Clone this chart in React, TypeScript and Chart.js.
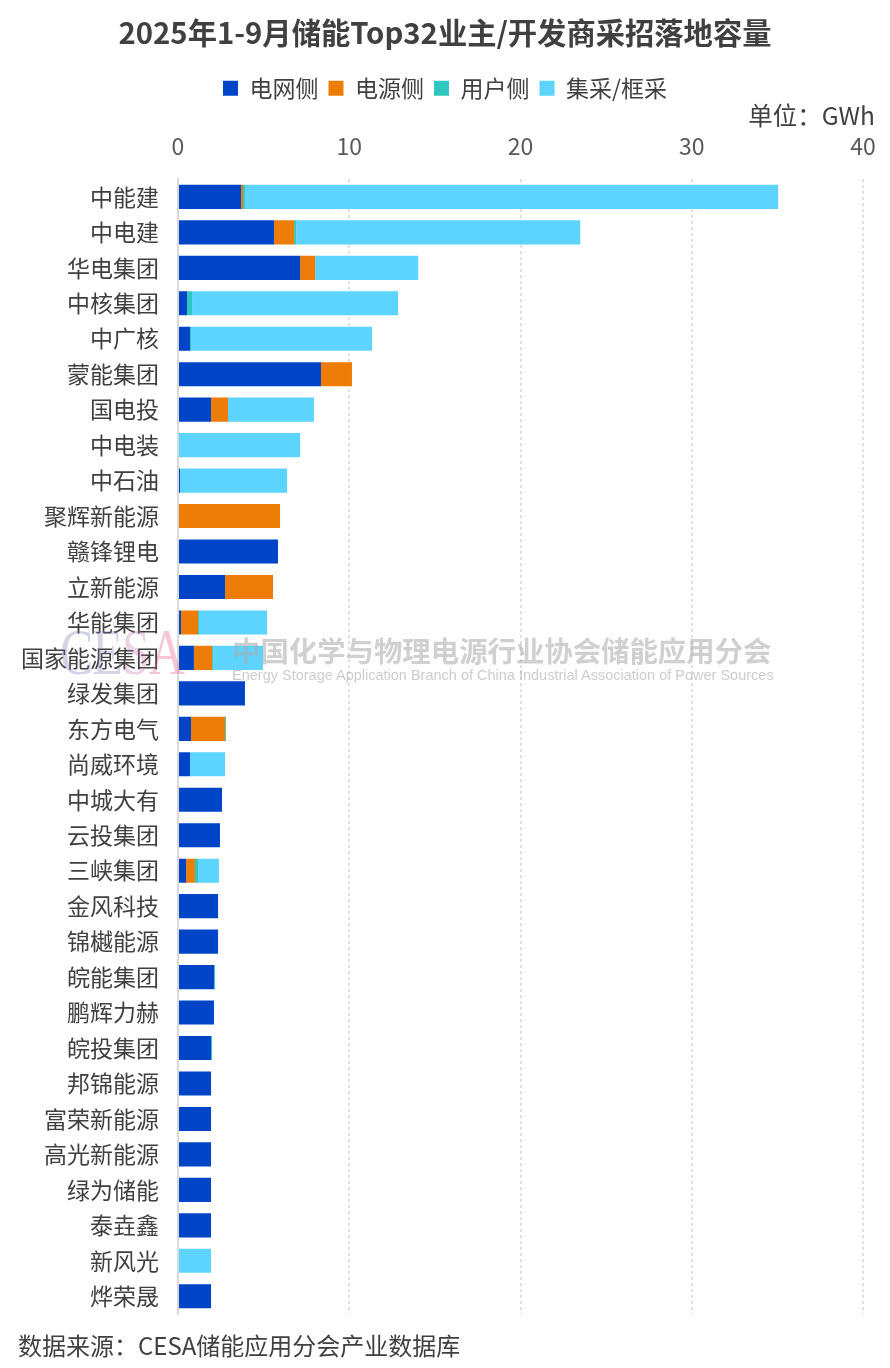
import React, { useEffect, useRef } from "react";
import { Chart, registerables } from "chart.js";
Chart.register(...registerables);

const categories = [
  "中能建", "中电建", "华电集团", "中核集团", "中广核", "蒙能集团", "国电投", "中电装",
  "中石油", "聚辉新能源", "赣锋锂电", "立新能源", "华能集团", "国家能源集团", "绿发集团", "东方电气",
  "尚威环境", "中城大有", "云投集团", "三峡集团", "金风科技", "锦樾能源", "皖能集团", "鹏辉力赫",
  "皖投集团", "邦锦能源", "富荣新能源", "高光新能源", "绿为储能", "泰垚鑫", "新风光", "烨荣晟",
];

const seriesNames = ["电网侧", "电源侧", "用户侧", "集采/框采"];

const gridSide = [
  3.68, 5.61, 7.13, 0.53, 0.70, 8.35, 1.93, 0,
  0.12, 0, 5.84, 2.75, 0.18, 0.93, 3.91, 0.76,
  0.70, 2.57, 2.45, 0.47, 2.34, 2.34, 2.10, 2.10,
  1.93, 1.93, 1.93, 1.93, 1.93, 1.93, 0, 1.93,
];
const sourceSide = [
  0.12, 1.17, 0.88, 0, 0, 1.81, 0.99, 0,
  0, 5.96, 0, 2.80, 0.99, 1.06, 0, 1.99,
  0, 0, 0, 0.52, 0, 0, 0, 0,
  0, 0, 0, 0, 0, 0, 0, 0,
];
const userSide = [
  0.12, 0.12, 0, 0.29, 0.06, 0, 0, 0,
  0, 0, 0, 0, 0.06, 0.06, 0, 0.06,
  0, 0, 0, 0.18, 0, 0, 0.06, 0,
  0.06, 0, 0, 0, 0, 0, 0, 0,
];
const centralized = [
  31.13, 16.59, 6.02, 12.03, 10.57, 0, 5.02, 7.13,
  6.25, 0, 0, 0, 3.97, 2.91, 0, 0,
  2.05, 0, 0, 1.22, 0, 0, 0, 0,
  0, 0, 0, 0, 0, 0, 1.93, 0,
];

const xTicks = [0, 10, 20, 30, 40];

const colors = ["#0044C8", "#ED7D07", "#2FC8C1", "#5CD4FE"];
const FONT = '"Noto Sans CJK SC", "Noto Sans", sans-serif';
const TEXT = "#404040";

export default function App() {
  const ref = useRef<HTMLCanvasElement>(null);

  useEffect(() => {
    document.body.style.margin = "0";
    Chart.defaults.font.family = FONT;
    const values = [gridSide, sourceSide, userSide, centralized];
    const chart = new Chart(ref.current as HTMLCanvasElement, {
      type: "bar",
      data: {
        labels: categories,
        datasets: seriesNames.map((name, i) => ({
          label: name,
          data: values[i],
          backgroundColor: colors[i],
          borderWidth: 0,
          barPercentage: 0.68,
          categoryPercentage: 1,
        })),
      },
      options: {
        indexAxis: "y",
        responsive: false,
        animation: false,
        layout: { padding: { left: 0, right: 0, top: 0, bottom: 54 } },
        plugins: {
          title: {
            display: true,
            text: "2025年1-9月储能Top32业主/开发商采招落地容量",
            color: TEXT,
            font: { size: 29.3, weight: "bold", family: FONT },
            padding: { top: 15.4, bottom: 16.1 },
          },
          legend: {
            display: true,
            position: "top",
            labels: {
              color: TEXT,
              font: { size: 23, family: FONT },
              boxWidth: 15,
              boxHeight: 15,
              padding: 10,
            },
          },
          tooltip: { enabled: false },
        },
        scales: {
          x: {
            type: "linear",
            position: "top",
            stacked: true,
            min: 0,
            max: 40,
            afterBuildTicks: (s: any) => {
              s.ticks = xTicks.map((v) => ({ value: v }));
            },
            afterFit: (s: any) => {
              s.height = 69.5;
              s.paddingRight = 27;
              s.paddingLeft = 0;
            },
            ticks: {
              color: "#595959",
              font: { size: 23, family: FONT },
              padding: 19,
            },
            grid: { color: "#E0E0E0", lineWidth: 2, drawTicks: false },
            border: { display: false, dash: [3, 3] },
          },
          y: {
            stacked: true,
            afterFit: (s: any) => {
              s.width = 178;
            },
            ticks: {
              color: TEXT,
              font: { size: 23, family: FONT },
              padding: 19,
              autoSkip: false,
            },
            grid: { display: false, drawTicks: false },
            border: { display: true, color: "#D9D9D9", width: 2 },
          },
        },
      },
    });
    return () => chart.destroy();
  }, []);

  return (
    <div style={{ position: "relative", width: 890, height: 1368, background: "#fff", fontFamily: FONT }}>
      <canvas ref={ref} width={890} height={1368} style={{ display: "block", width: 890, height: 1368 }} />
      <div
        style={{
          position: "absolute",
          right: 15,
          top: 101,
          lineHeight: "28px",
          fontSize: 24.5,
          color: TEXT,
          whiteSpace: "nowrap",
        }}
      >
        单位：GWh
      </div>
      <div
        style={{
          position: "absolute",
          left: 18,
          top: 1331,
          lineHeight: "28px",
          fontSize: 24,
          color: TEXT,
          whiteSpace: "nowrap",
        }}
      >
        数据来源：CESA储能应用分会产业数据库
      </div>
      <div style={{ position: "absolute", left: 0, top: 0, width: 890, height: 1368, pointerEvents: "none" }}>
        <div
          style={{
            position: "absolute",
            left: 60,
            top: 622,
            fontFamily: '"Liberation Serif", serif',
            fontSize: 50,
            lineHeight: "60px",
            transform: "scaleY(1.3)",
            transformOrigin: "left center",
            whiteSpace: "nowrap",
            letterSpacing: -1,
          }}
        >
          <span style={{ color: "rgba(110,110,180,0.3)" }}>C</span>
          <span style={{ color: "rgba(120,110,180,0.3)" }}>E</span>
          <span style={{ color: "rgba(190,110,170,0.3)" }}>S</span>
          <span style={{ color: "rgba(235,90,140,0.35)" }}>A</span>
        </div>
        <div
          style={{
            position: "absolute",
            left: 232,
            top: 632,
            fontSize: 28.4,
            lineHeight: "36px",
            fontWeight: 700,
            color: "rgba(170,170,170,0.55)",
            whiteSpace: "nowrap",
          }}
        >
          中国化学与物理电源行业协会储能应用分会
        </div>
        <div
          style={{
            position: "absolute",
            left: 232,
            top: 666,
            fontSize: 14.5,
            lineHeight: "18px",
            fontFamily: '"Liberation Sans", Arial, sans-serif',
            color: "rgba(170,170,170,0.6)",
            whiteSpace: "nowrap",
          }}
        >
          Energy Storage Application Branch of China Industrial Association of Power Sources
        </div>
      </div>
    </div>
  );
}
